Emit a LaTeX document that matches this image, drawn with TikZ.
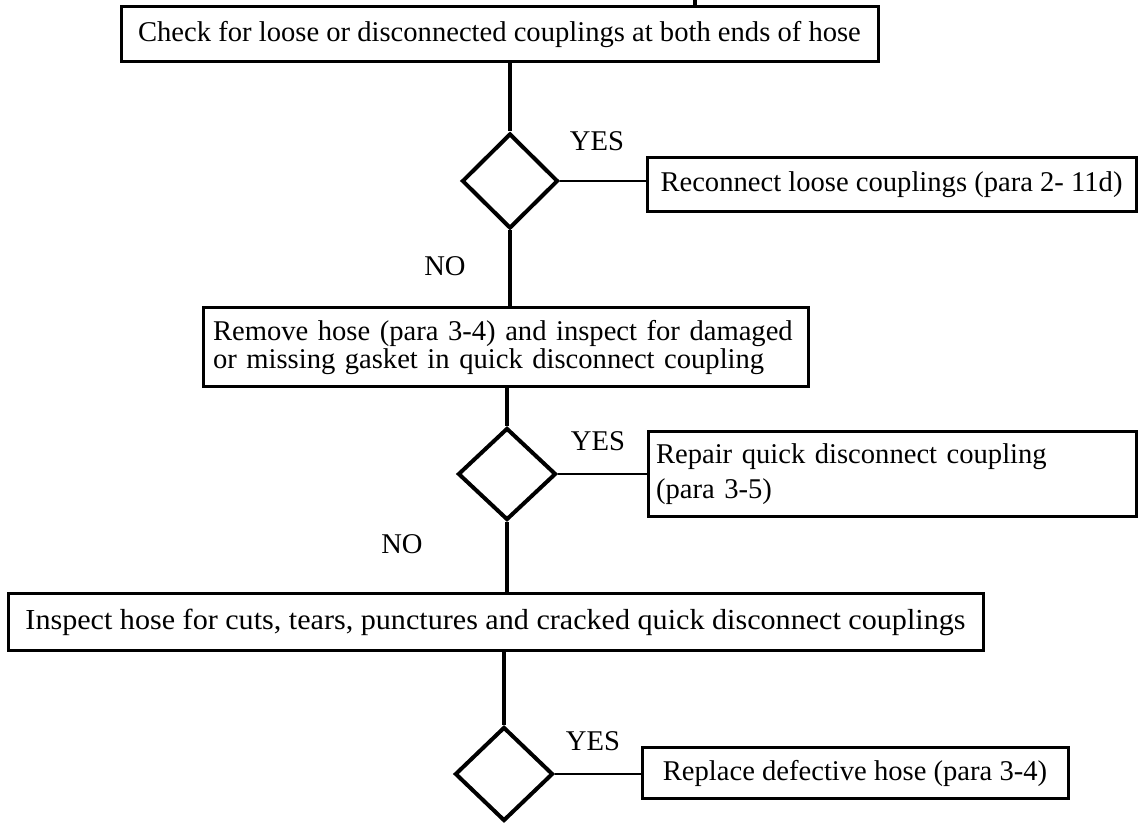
\documentclass[tikz,border=0pt]{standalone}
\usepackage{fontspec}
\setmainfont{Liberation Serif}
\usetikzlibrary{shapes.geometric}
\begin{document}
\begin{tikzpicture}[x=0.5pt,y=-0.5pt,
  box/.style={draw, line width=1.5pt, rectangle, inner sep=0pt, font=\fontsize{14.3}{14}\selectfont},
  lbox/.style={box, align=left},
  dia/.style={draw, diamond, line width=2pt, inner sep=0pt},
  conn/.style={line width=1.7pt},
  hconn/.style={line width=1.2pt},
  lbl/.style={font=\fontsize{14.3}{14}\selectfont, inner sep=0pt}]
\useasboundingbox (0,0) rectangle (1148,823);

\node[box, minimum width=378.5pt, minimum height=27.5pt] (b1) at (499.5,34.5)
  {Check for loose or disconnected couplings at both ends of hose};
\node[box, minimum width=244.5pt, minimum height=27pt] (b2) at (891.5,185)
  {Reconnect loose couplings (para 2- 11d)};
\node[lbox, minimum width=302.5pt, minimum height=39.5pt, text width=292.5pt,
  font=\fontsize{14.3}{14}\selectfont] (b3) at (505.5,347.5)
  {Remove hose (para 3-4) and inspect for damaged\\or missing gasket in quick disconnect coupling};
\node[lbox, minimum width=244pt, minimum height=42.5pt, text width=236pt,
  font=\fontsize{14.3}{17.5}\selectfont] (b4) at (892,474.5)
  {Repair quick disconnect coupling\\(para 3-5)};
\node[box, minimum width=487.5pt, minimum height=28.5pt] (b5) at (495.5,622.5)
  {\resizebox{470pt}{\height}{\fontsize{14.5}{16}\selectfont Inspect hose for cuts, tears, punctures and cracked quick disconnect couplings}};
\node[box, minimum width=213pt, minimum height=25.5pt] (b6) at (855,773.5)
  {Replace defective hose (para 3-4)};

\node[dia, minimum width=48pt, minimum height=47.5pt] (d1) at (510,181) {};
\node[dia, minimum width=49pt, minimum height=46pt] (d2) at (507,474) {};
\node[dia, minimum width=49pt, minimum height=47pt] (d3) at (504,774) {};

\node[lbl] (y1) at (597,141) {YES};
\node[lbl] (n1) at (445,266) {NO};
\node[lbl] (y2) at (598,441) {YES};
\node[lbl] (n2) at (402,544) {NO};
\node[lbl] (y3) at (593,741) {YES};

\coordinate (top) at (695,0);
\draw[conn] (top) -- (top |- b1.north);

\draw[conn] (b1.south -| d1.north) -- (d1.north);
\draw[hconn] (d1.east) -- (d1.east -| b2.west);
\draw[conn] (d1.south) -- (d1.south |- b3.north);
\draw[conn] (b3.south -| d2.north) -- (d2.north);
\draw[hconn] (d2.east) -- (d2.east -| b4.west);
\draw[conn] (d2.south) -- (d2.south |- b5.north);
\draw[conn] (b5.south -| d3.north) -- (d3.north);
\draw[hconn] (d3.east) -- (d3.east -| b6.west);
\end{tikzpicture}
\end{document}
